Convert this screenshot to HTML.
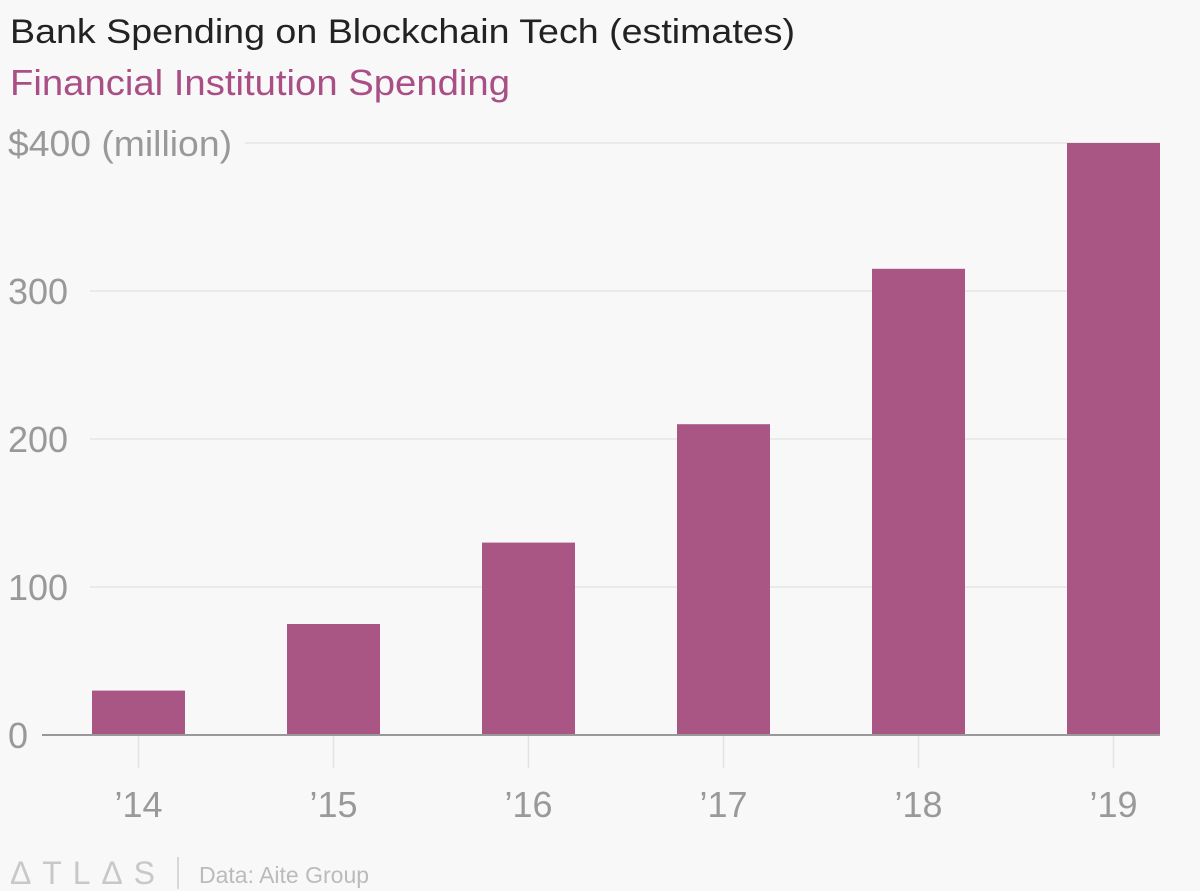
<!DOCTYPE html>
<html><head><meta charset="utf-8"><style>
html,body{margin:0;padding:0;background:#f8f8f8;}
svg{display:block;font-family:"Liberation Sans",sans-serif;}
</style></head><body>
<svg id="chart" width="1200" height="891" viewBox="0 0 1200 891">
<rect width="1200" height="891" fill="#f8f8f8"/>
<text x="10" y="43" font-size="34" fill="#222" textLength="785" lengthAdjust="spacingAndGlyphs">Bank Spending on Blockchain Tech (estimates)</text>
<text x="10" y="95" font-size="36" fill="#a94f86" textLength="500" lengthAdjust="spacingAndGlyphs">Financial Institution Spending</text>
<g id="grid"></g><g id="bars"></g><g id="xaxis"></g>
<text x="10" y="884" font-size="32" fill="#c8c8c8" textLength="145" lengthAdjust="spacing">ΔTLΔS</text>
<line x1="178" y1="857" x2="178" y2="889" stroke="#ccc" stroke-width="1.5"/>
<text x="199" y="883" font-size="23" fill="#bbb">Data: Aite Group</text>
</svg>
<script>
const categories = ["’14","’15","’16","’17","’18","’19"];
const values = [30, 75, 130, 210, 315, 400];
const yTicks = [0, 100, 200, 300, 400];
const yTickLabels = ["0","100","200","300","$400 (million)"];
const NS="http://www.w3.org/2000/svg";
function y(v){return 735 - v*1.48;}
function xc(i){return 138.5 + i*195;}
const bw=93;
function mk(tag,attrs,parent){const e=document.createElementNS(NS,tag);for(const k in attrs)e.setAttribute(k,attrs[k]);parent.appendChild(e);return e;}
const grid=document.getElementById('grid'),bars=document.getElementById('bars'),xa=document.getElementById('xaxis');
const labelW=[28,80,80,80,235];
yTicks.forEach((t,i)=>{
  if(t>0){const l=mk('line',{x1:labelW[i]+10,x2:1160,y1:y(t),y2:y(t),stroke:'#e6e6e6','stroke-width':1.5},grid);
  
  }
  const attrs={x:8,y:y(t)+13,'font-size':36,fill:'#999'};
  if(t===400){attrs.textLength=224;attrs.lengthAdjust='spacingAndGlyphs';}
  const tx=mk('text',attrs,grid);
  tx.textContent=yTickLabels[i];
  
  
});
values.forEach((v,i)=>{
  const r=mk('rect',{x:xc(i)-bw/2,y:y(v),width:bw,height:735-y(v),fill:'#a95685'},bars);
  
  
  const tk=mk('line',{x1:xc(i),x2:xc(i),y1:736,y2:768,stroke:'#e3e3e3','stroke-width':1.5},xa);
  
  
  const tl=mk('text',{x:xc(i),y:817,'font-size':36,fill:'#999','text-anchor':'middle'},xa);
  tl.textContent=categories[i];
  
  
});
const ax=mk('line',{x1:42,x2:1160,y1:735,y2:735,stroke:'#999','stroke-width':2},xa);


</script>
</body></html>
